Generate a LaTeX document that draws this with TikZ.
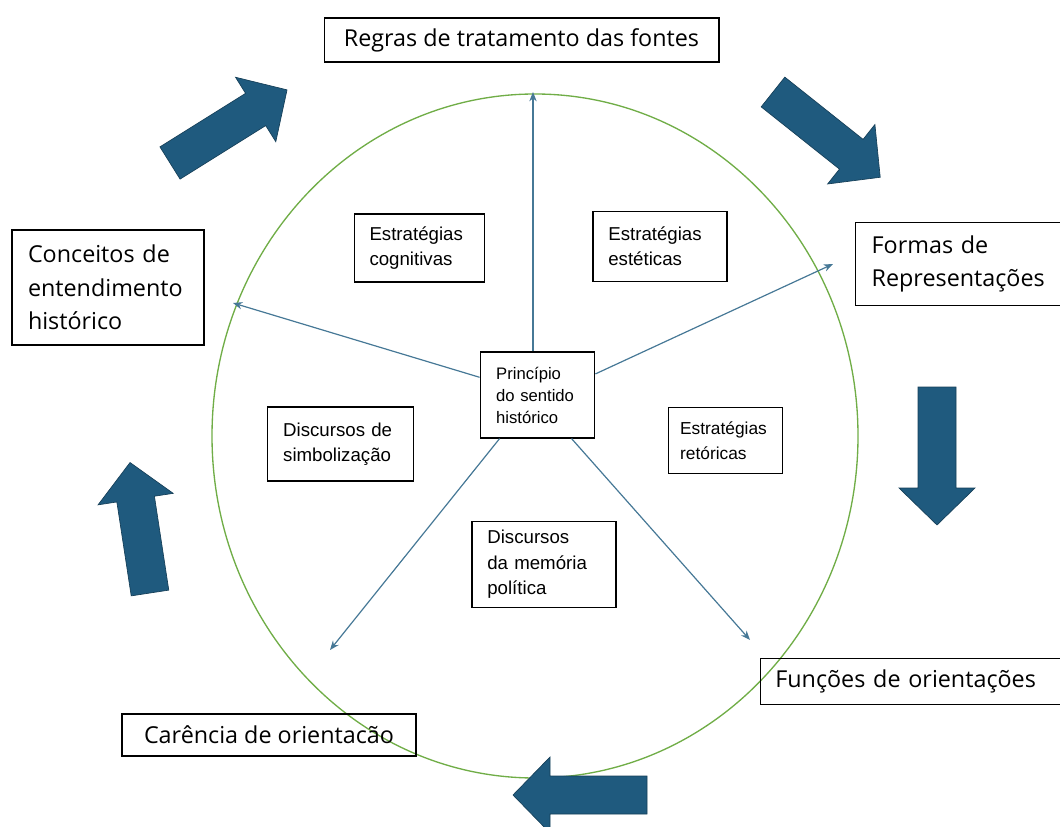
\documentclass[tikz,border=0pt]{standalone}
\usepackage{fontspec}
\setmainfont{Liberation Sans}
\newfontfamily\outerfont{Open Sans}
\usetikzlibrary{arrows.meta}
\definecolor{ringgreen}{RGB}{112,173,71}
\definecolor{linkblue}{RGB}{70,120,150}
\definecolor{bigblue}{RGB}{31,90,126}
\begin{document}
\begin{tikzpicture}
[x=0.75pt, y=-0.75pt, line width=0.75pt,
outer/.style={rectangle, draw=black, line width=1pt, inner xsep=12pt, inner ysep=3pt, align=left, font=\outerfont\fontsize{17.5}{25}\selectfont},
inner/.style={rectangle, draw=black, line width=0.9pt, inner xsep=11.5pt, inner ysep=2pt, align=left, font=\fontsize{14}{19}\selectfont},
core/.style={rectangle, draw=black, line width=0.9pt, inner xsep=12pt, inner ysep=2pt, align=left, font=\fontsize{12.5}{16.5}\selectfont},
link/.style={draw=linkblue, line width=0.9pt, -{Stealth[length=7pt, width=5.5pt]}},
bigarrow/.style={fill=bigblue, draw=bigblue!70!black, line width=0.5pt}]

\useasboundingbox (0,0) rectangle (1060,827);

\draw[ringgreen, line width=1pt] (535,436) ellipse [x radius=323, y radius=342];

% outer labels
\node[outer, minimum width=296pt, minimum height=33pt, align=center] (regras) at (521.5,40) {Regras de tratamento das fontes};
\node[outer, text width=120pt, minimum height=86pt] (conceitos) at (108,287.5) {Conceitos de\\entendimento\\histórico};
\node[outer, anchor=north west, text width=150pt, minimum height=62pt] (formas) at (855,222) {Formas de\\Representações};
\node[outer, anchor=north west, text width=215pt, minimum height=34.5pt, inner xsep=11pt] (funcoes) at (760,658) {Funções de orientações};
\node[outer, minimum width=220.5pt, minimum height=31.5pt, align=center] (carencia) at (269,735) {Carência de orientacão};

% inner boxes
\node[inner, text width=75pt, minimum height=51pt] (cognitivas) at (419.5,248) {Estratégias\\cognitivas};
\node[inner, text width=77.5pt, minimum height=52pt] (esteticas) at (660,246.5) {Estratégias\\estéticas};
\node[inner, text width=86pt, minimum height=55.5pt] (simbolizacao) at (340.5,444) {Discursos de\\simbolização};
\node[inner, text width=68pt, minimum height=49pt, inner xsep=9pt, font=\fontsize{13}{19}\selectfont] (retoricas) at (725.5,440.5) {Estratégias\\retóricas};
\node[inner, text width=85pt, minimum height=65pt] (memoria) at (544,564.5) {Discursos\\da memória\\política};
\node[core, text width=62pt, minimum height=64.5pt] (principio) at (537.5,395) {Princípio\\do sentido\\histórico};

\coordinate (tipN) at (533,92);
\coordinate (tipW) at (233,303);
\coordinate (tipE) at (833,264);
\coordinate (tipSW) at (330,650);
\coordinate (tipSE) at (750,640);

\draw[link] (principio.north -| tipN) -- (tipN);
\draw[link] (principio.163) -- (tipW);
\draw[link] (principio.20) -- (tipE);
\draw[link] (principio.229) -- (tipSW);
\draw[link] (principio.308) -- (tipSE);

% block arrows round the ring
\foreach \x/\y/\a/\l in {170/163/32/138, 773/92/-38.5/137, 937/387/-90/138, 150/593/98.7/132, 647/795/180/134} {
  \draw[bigarrow, shift={(\x,\y)}, rotate=\a] (0,-19) -- (\l-37,-19) -- (\l-37,-38) -- (\l,0) -- (\l-37,38) -- (\l-37,19) -- (0,19) -- cycle;
}
\end{tikzpicture}
\end{document}
